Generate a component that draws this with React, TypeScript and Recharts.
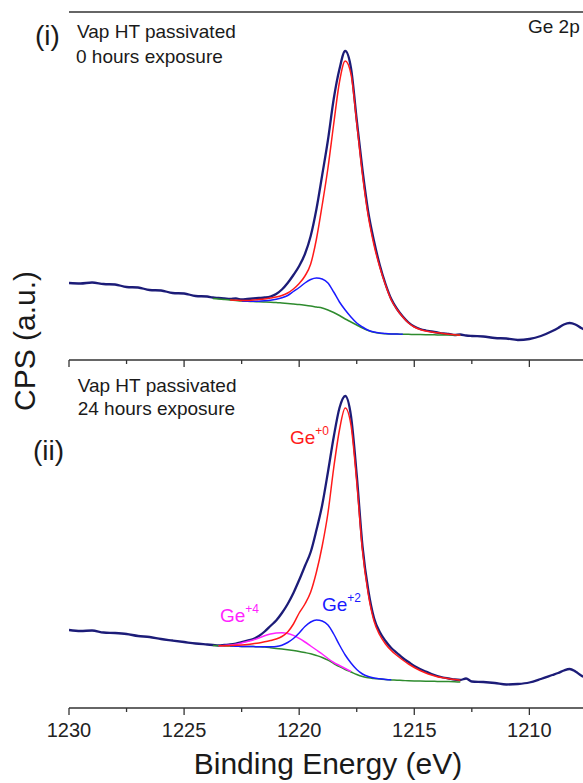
import { LineChart, Line, XAxis, YAxis, ReferenceLine } from 'recharts';

// Binding energy grid of the measured spectrum (eV)
const specEnergy = [
  1230, 1229.5, 1229, 1228.5, 1228, 1227.5, 1227, 1226.5, 1226, 1225.5, 1225, 1224.5, 1224,
  1223.75, 1223.5, 1223.25, 1223, 1222.75, 1222.5, 1222.25, 1222, 1221.75, 1221.5, 1221.25, 1221,
  1220.75, 1220.5, 1220.25, 1220, 1219.75, 1219.5, 1219.25, 1219, 1218.75, 1218.5, 1218.25, 1218,
  1217.75, 1217.5, 1217.25, 1217, 1216.75, 1216.5, 1216.25, 1216, 1215.75, 1215.5, 1215.25, 1215,
  1214.75, 1214.5, 1214.25, 1214, 1213.75, 1213.5, 1213.25, 1213,
  1212.75, 1212.5, 1212, 1211.5, 1211, 1210.5, 1210, 1209.5, 1209, 1208.75, 1208.5, 1208.25, 1208,
  1207.75, 1207.5,
];

// (i) 0 hours exposure, CPS (a.u.)
const topSpectrum = [
  77, 76.5, 77.5, 76, 75.5, 73, 72.5, 70, 69.5, 67, 66.5, 64, 63.5,
  62.5, 62, 61.5, 61, 61.5, 60.5, 61, 61.5, 62, 62.5, 63.5, 66,
  70.5, 77, 85, 94, 106, 124, 151, 185, 220, 261, 291, 309,
  292, 240, 190, 148, 119, 95, 76, 61, 51, 43.5, 37.5, 33.5,
  31, 29.5, 28.5, 27.5, 26.5, 26, 25, 25.5,
  24.5, 24, 23.5, 22, 21.5, 20, 21, 24, 29, 32, 35.5, 37, 35.5,
  32, 29,
];

// (ii) 24 hours exposure, CPS (a.u.)
const bottomSpectrum = [
  78, 77, 77.5, 75.5, 75, 74, 72, 71, 69, 67.5, 66, 64.5, 63.5,
  63, 62.5, 63, 63.5, 64.5, 66, 67.5, 69, 72, 76.5, 82, 87.5,
  95, 104, 115, 128, 142, 156, 178, 203, 236, 271, 300, 312,
  292, 233, 162, 118, 90, 76, 67, 60, 55, 50, 46, 42,
  39, 36.5, 34, 32, 30.5, 29.5, 28.5, 28,
  29.5, 26.5, 26, 25, 23.5, 24, 25.5, 29, 33, 35, 37.5, 39, 36.5,
  32.5, 29.5,
];

// Energy grid of the fitted components (eV)
const fitEnergy = [
  1223.75, 1223.5, 1223.25, 1223, 1222.75, 1222.5, 1222.25, 1222, 1221.75, 1221.5, 1221.25,
  1221, 1220.75, 1220.5, 1220.25, 1220, 1219.75, 1219.5, 1219.25, 1219, 1218.75, 1218.5,
  1218.25, 1218, 1217.75, 1217.5, 1217.25, 1217, 1216.75, 1216.5, 1216.25, 1216, 1215.75,
  1215.5, 1215.25, 1215, 1214.75, 1214.5, 1214.25, 1214, 1213.75, 1213.5, 1213.25, 1213,
];

const topBackground = [
  61.5, 61, 60.5, 60, 59.5, 59, 58.7, 58.5, 58.2, 58, 57.8,
  57.5, 57, 56.5, 56, 55.5, 54.8, 54, 53, 52, 50, 47.5,
  44.5, 41, 38, 35, 32, 29.5, 27.8, 26.8, 26.3, 26, 25.9,
  25.8, 25.7, 25.5, 25.4, 25.3, 25.2, 25.1, 25, 25, 24.9, 24.8,
];
const topGe0 = [
  null, null, null, 60, 59.8, 59.5, 59.6, 60, 60.4, 61, 62,
  63, 64.5, 67, 71, 76.5, 84, 96, 121, 155, 192, 236,
  278, 299, 286, 237, 185, 144, 115, 93, 75, 60, 50.5,
  43, 37, 33, 30.5, 29, 28, 27.3, 26.5, 25.8, 25.2, 24.8,
];
const topGe2 = [
  null, null, null, null, null, 59, 58.8, 58.7, 58.8, 59.2, 59.8,
  60.8, 62.3, 64.5, 68.5, 72.5, 77, 80.5, 82, 81, 77, 68,
  58, 50, 43, 37, 33, 29.8, 27.9, 26.9, 26.4, 26.1, 25.95,
  25.8, null, null, null, null, null, null, null, null, null, null,
];

const bottomBackground = [
  62.5, 62.2, 62, 62, 61.8, 61.6, 61.5, 61.4, 61.2, 60.9, 60.3,
  59.6, 58.9, 58.2, 57.4, 56.5, 55.4, 54.2, 52.5, 50.5, 47.8, 44.5,
  41.3, 38.5, 36, 33.5, 31.5, 30.2, 29.5, 29, 28.5, 28.1, 27.8,
  27.5, 27.2, 27, 26.9, 26.8, 26.7, 26.6, 26.5, 26.4, 26.2, 26,
];
const bottomGe0 = [
  null, 62.2, 62.2, 62.4, 62.7, 63.1, 63.6, 64.3, 65.1, 66.2, 67.5,
  69, 71.5, 76, 84, 95, 104, 116, 136, 162, 195, 240,
  278, 300, 283, 226, 157, 114, 87, 73, 64, 57.5, 52.5,
  48, 44, 40.5, 37.5, 35, 33, 31.3, 30.2, 29.2, 28.4, 27.8,
];
const bottomGe2 = [
  null, null, null, 62, 61.8, 61.6, 61.5, 61.4, 61.3, 61.2, 61.3,
  61.6, 62.8, 65.5, 69.5, 75, 81.5, 86, 88, 87, 83, 74,
  63, 53, 45, 38.5, 34, 31.5, 30, 29.2, 28.6, 28.2, null,
  null, null, null, null, null, null, null, null, null, null, null,
];
const bottomGe4 = [
  null, 62.2, 62.5, 63, 63.8, 65, 66.5, 68, 70, 72.3, 74,
  75, 75.3, 74.6, 72.6, 69.6, 66, 62, 58, 54, 49.5, 45.5,
  42.5, 39.5, 36.5, null, null, null, null, null, null, null, null,
  null, null, null, null, null, null, null, null, null, null, null,
];

const majorTicks = [1230, 1225, 1220, 1215, 1210];
const minorTicks = [1227.5, 1222.5, 1217.5, 1212.5];

const FONT = '"Liberation Sans", Arial, sans-serif';
const AXIS = '#333';
const X_DOMAIN: [number, number] = [1207.67, 1230];
const Y_DOMAIN: [number, number] = [0, 348];

const rows = (xs: number[], ys: (number | null)[]) => xs.map((e, i) => ({ e, v: ys[i] }));

const allTicks = [...majorTicks, ...minorTicks].sort((a, b) => b - a);

function makeTick(showLabel: boolean) {
  return (props: any) => {
    const { x, y, payload } = props;
    const major = majorTicks.includes(payload.value);
    return (
      <g>
        <line x1={x} x2={x} y1={y} y2={y + (major ? 7 : 4)} stroke={AXIS} strokeWidth={1.3} />
        {showLabel && major && (
          <text x={x} y={y + 29} textAnchor="middle" fontSize={20} fill="#222" fontFamily={FONT}>
            {payload.value}
          </text>
        )}
      </g>
    );
  };
}

interface PanelProps {
  height: number;
  top: number;
  axisHeight: number;
  showLabels: boolean;
  spectrum: number[];
  comps: { values: (number | null)[]; color: string }[];
}

function Panel({ height, top, axisHeight, showLabels, spectrum, comps }: PanelProps) {
  return (
    <div style={{ position: 'absolute', left: 0, top: 0 }}>
      <LineChart width={583} height={height} margin={{ top, right: 0, left: 69, bottom: 0 }}>
        <XAxis
          dataKey="e"
          type="number"
          domain={X_DOMAIN}
          reversed
          allowDataOverflow
          ticks={allTicks}
          interval={0}
          tickSize={0}
          tickMargin={0}
          tickLine={false}
          tick={makeTick(showLabels)}
          height={axisHeight}
          axisLine={{ stroke: AXIS, strokeWidth: 1.5 }}
        />
        <YAxis
          type="number"
          domain={Y_DOMAIN}
          allowDataOverflow
          width={0}
          tick={false}
          tickLine={false}
          axisLine={{ stroke: AXIS, strokeWidth: 1.5 }}
        />
        <Line
          data={rows(specEnergy, spectrum)}
          dataKey="v"
          type="monotone"
          stroke="#1c1c78"
          strokeWidth={2.3}
          dot={false}
          isAnimationActive={false}
        />
        {comps.map((c, i) => (
          <Line
            key={i}
            data={rows(fitEnergy, c.values)}
            dataKey="v"
            type="monotone"
            stroke={c.color}
            strokeWidth={1.5}
            dot={false}
            isAnimationActive={false}
          />
        ))}
      </LineChart>
    </div>
  );
}

const GREEN = '#2e8b2e';
const BLUE = '#1a1aff';
const RED = '#ff1a1a';
const MAGENTA = '#ff22ff';

export default function App() {
  const txt = { fontFamily: FONT, fill: '#1a1a1a' };
  return (
    <div
      style={{
        position: 'absolute',
        left: 0,
        top: 0,
        width: 583,
        height: 783,
        overflow: 'hidden',
        background: '#fff',
      }}
    >
      <Panel
        height={372}
        top={12}
        axisHeight={12}
        showLabels={false}
        spectrum={topSpectrum}
        comps={[
          { values: topBackground, color: GREEN },
          { values: topGe2, color: BLUE },
          { values: topGe0, color: RED },
        ]}
      />
      <Panel
        height={783}
        top={360}
        axisHeight={75}
        showLabels
        spectrum={bottomSpectrum}
        comps={[
          { values: bottomBackground, color: GREEN },
          { values: bottomGe4, color: MAGENTA },
          { values: bottomGe2, color: BLUE },
          { values: bottomGe0, color: RED },
        ]}
      />
      <svg
        width={583}
        height={783}
        style={{ position: 'absolute', left: 0, top: 0, pointerEvents: 'none' }}
      >
        <line x1={69} x2={583} y1={12} y2={12} stroke={AXIS} strokeWidth={1.5} />
        <text x={35} y={44.5} fontSize={28} {...txt}>(i)</text>
        <text x={77} y={38.3} fontSize={19} {...txt}>Vap HT passivated</text>
        <text x={76} y={63} fontSize={19} {...txt}>0 hours exposure</text>
        <text x={528} y={33} fontSize={19} {...txt}>Ge 2p</text>
        <text x={33} y={460} fontSize={28} {...txt}>(ii)</text>
        <text x={77.7} y={392} fontSize={19} {...txt}>Vap HT passivated</text>
        <text x={77.7} y={415} fontSize={19} {...txt}>24 hours exposure</text>
        <text x={290} y={443.6} fontSize={19} fontFamily={FONT} fill={RED}>
          Ge<tspan fontSize={12} dy={-9}>+0</tspan>
        </text>
        <text x={322} y={610.6} fontSize={19} fontFamily={FONT} fill={BLUE}>
          Ge<tspan fontSize={12} dy={-9}>+2</tspan>
        </text>
        <text x={220} y={622} fontSize={19} fontFamily={FONT} fill={MAGENTA}>
          Ge<tspan fontSize={12} dy={-9}>+4</tspan>
        </text>
        <text
          x={35}
          y={341}
          fontSize={30}
          textAnchor="middle"
          transform="rotate(-90 35 341)"
          {...txt}
        >
          CPS (a.u.)
        </text>
        <text x={328} y={774} fontSize={30} textAnchor="middle" {...txt}>
          Binding Energy (eV)
        </text>
      </svg>
    </div>
  );
}
